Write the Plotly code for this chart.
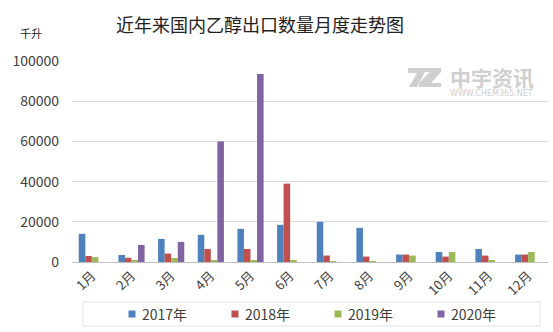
import plotly.graph_objects as go

months = ["1月", "2月", "3月", "4月", "5月", "6月", "7月", "8月", "9月", "10月", "11月", "12月"]
exports_2017 = [14000, 3500, 11500, 13500, 16500, 18500, 20000, 17000, 3700, 5000, 6500, 3700]
exports_2018 = [3000, 2100, 4200, 6500, 6500, 39000, 3200, 2700, 3700, 2700, 3200, 3700]
exports_2019 = [2500, 600, 2000, 600, 600, 600, 500, 500, 3200, 5000, 600, 5000]
exports_2020 = [None, 8500, 10000, 60000, 93500, None, None, None, None, None, None, None]

series = [
    ("2017年", exports_2017, "#4F81BD"),
    ("2018年", exports_2018, "#C0504D"),
    ("2019年", exports_2019, "#9BBB59"),
    ("2020年", exports_2020, "#8064A2"),
]

FONT = "Noto Sans CJK SC, Microsoft YaHei, sans-serif"
W, H = 553, 332
L, R, T, B = 72, 5, 61, 70
PW, PH = W - L - R, H - T - B


def px_x(px):
    return (px - L) / PW


def px_y(py):
    return (H - B - py) / PH


def px_path(points):
    """SVG path in paper coordinates from page pixel points."""
    parts = []
    for i, (px, py) in enumerate(points):
        parts.append(("M" if i == 0 else "L") + f" {px_x(px):.4f},{px_y(py):.4f}")
    return " ".join(parts) + " Z"


fig = go.Figure()
for name, vals, color in series:
    fig.add_trace(go.Bar(x=months, y=vals, name=name, showlegend=False,
                         marker=dict(color=color, line=dict(width=0))))

fig.update_layout(
    width=W, height=H,
    margin=dict(l=L, r=R, t=T, b=B),
    paper_bgcolor="white", plot_bgcolor="white",
    font=dict(family=FONT, color="#404040"),
    barmode="group", bargap=0.34, bargroupgap=0,
    title=dict(text="近年来国内乙醇出口数量月度走势图", x=260 / W, xanchor="center",
               y=1 - 26 / H, yanchor="middle", font=dict(size=18, color="#222222")),
)
fig.update_yaxes(range=[0, 100000], dtick=20000, showgrid=True, gridcolor="#d9d9d9",
                 zeroline=False, showline=False, tickfont=dict(size=14, color="#404040"),
                 tickformat="d", ticks="", ticklen=0, ticklabelstandoff=12)
fig.update_xaxes(tickangle=-45, tickfont=dict(size=13, color="#404040"), showline=True,
                 linecolor="#bfbfbf", linewidth=1, ticks="")

fig.add_annotation(text="千升", xref="paper", yref="paper", x=px_x(44), y=px_y(33),
                   xanchor="right", yanchor="middle", showarrow=False,
                   font=dict(size=11, color="#222222"))

# legend: bordered box with a square swatch and label per series
fig.add_shape(type="rect", xref="paper", yref="paper",
              x0=px_x(83), x1=px_x(540), y0=px_y(302), y1=px_y(326),
              line=dict(color="#e3e3e3", width=1), fillcolor="rgba(0,0,0,0)")
for i, (name, _, color) in enumerate(series):
    cx = 132 + 103 * i
    fig.add_shape(type="rect", xref="paper", yref="paper",
                  x0=px_x(cx - 3.5), x1=px_x(cx + 3.5), y0=px_y(310.5), y1=px_y(317.5),
                  line=dict(width=0), fillcolor=color)
    fig.add_annotation(text=name, xref="paper", yref="paper", x=px_x(cx + 8), y=px_y(314),
                       xanchor="left", yanchor="middle", showarrow=False,
                       font=dict(size=14, color="#404040"))

# watermark: brand logo and text
logo_gray = "#cfcfcf"
fig.add_shape(type="path", xref="paper", yref="paper", layer="below", line=dict(width=0),
              fillcolor=logo_gray,
              path=px_path([(408, 68), (427, 68), (417, 87), (409, 87), (417, 73), (408, 73)]))
fig.add_shape(type="path", xref="paper", yref="paper", layer="below", line=dict(width=0),
              fillcolor=logo_gray,
              path=px_path([(424, 68), (441, 68), (441, 72), (431, 83), (441, 83), (441, 87),
                            (419, 87), (419, 83), (430, 72), (424, 72)]))
fig.add_annotation(
    text=("<span style='font-size:21px;font-weight:bold'>中宇资讯</span><br>"
          "<span style='font-family:DejaVu Sans'>WWW.CHEM365.NET</span>"),
    xref="paper", yref="paper", x=px_x(448), y=px_y(80), showarrow=False, align="left",
    font=dict(size=8, color=logo_gray), xanchor="left", yanchor="middle")

fig.write_html("out.html")
